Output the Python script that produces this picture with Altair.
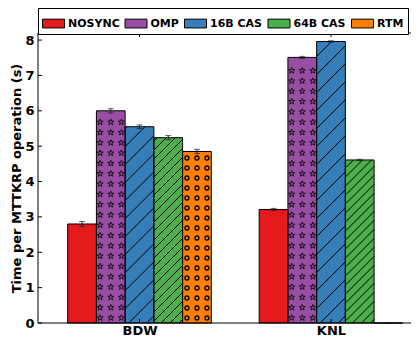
import json
import pandas as pd
import altair as alt

# ---- data ----
groups = ["BDW", "KNL"]
series = ["NOSYNC", "OMP", "16B CAS", "64B CAS", "RTM"]
bdw_time = [2.80, 6.00, 5.55, 5.24, 4.85]
bdw_err = [0.07, 0.06, 0.05, 0.06, 0.06]
knl_time = [3.21, 7.51, 7.96, 4.61, 0.0]
knl_err = [0.03, 0.03, 0.02, 0.02, 0.01]
y_ticks = [0, 1, 2, 3, 4, 5, 6, 7, 8]
colors = ["#e41a1c", "#984ea3", "#377eb8", "#4daf4a", "#ff7f00"]
hatches = ["", "*", "/", "//", "o"]

# ---- layout / style ----
PAD_L, PAD_T = 30, 25
W, H = 373, 290
SVG_W, SVG_H = 403, 332
XDOM = [-0.53, -0.53 + W / 191.5]
YDOM = [0, 8.2]
BAR_W = 0.15
px_x = W / (XDOM[1] - XDOM[0])
px_y = H / (YDOM[1] - YDOM[0])
FONT = "DejaVu Sans"
STAR = ("M0,-1L0.2245,-0.309L0.951,-0.309L0.363,0.118L0.588,0.809L0,0.382"
        "L-0.588,0.809L-0.363,0.118L-0.951,-0.309L-0.2245,-0.309Z")

rows = []
for gi, (g, vals, errs) in enumerate(zip(groups, [bdw_time, knl_time], [bdw_err, knl_err])):
    for si, (s, v, e) in enumerate(zip(series, vals, errs)):
        xc = gi + (si - 2) * BAR_W
        rows.append(dict(group=g, series=s, xc=xc, xl=xc - BAR_W / 2, xr=xc + BAR_W / 2,
                         time=v, lo=v - e, hi=v + e, hatch=hatches[si]))
bars = pd.DataFrame(rows)

# pattern glyphs derived from the bar values
dots, segs = [], []
for r in rows:
    v = r["time"]
    if r["hatch"] in ("*", "o"):
        step_px, col_px, rad_px = (10.3, 10.6, 3.0) if r["hatch"] == "*" else (10.0, 10.0, 2.4)
        dy, dx, rad = step_px / px_y, col_px / px_x, rad_px / px_y
        k = 0
        while (k + 0.5) * dy + rad <= v:
            for c in (-1, 0, 1):
                dots.append(dict(x=r["xc"] + c * dx, y=(k + 0.5) * dy, kind=r["hatch"]))
            k += 1
    elif r["hatch"] in ("/", "//"):
        sp = (18.0 if r["hatch"] == "/" else 9.0) / px_y
        rise = BAR_W * px_x / px_y
        y0 = -rise + 0.4 * sp
        while y0 < v:
            t0 = max(0.0, -y0 / rise)
            t1 = min(1.0, (v - y0) / rise)
            if t1 > t0:
                segs.append(dict(x=r["xl"] + t0 * BAR_W, x2=r["xl"] + t1 * BAR_W,
                                 y=y0 + t0 * rise, y2=y0 + t1 * rise))
            y0 += sp
dots = pd.DataFrame(dots)
segs = pd.DataFrame(segs)

x_axis = alt.Axis(values=list(range(len(groups))), labelExpr=f"{json.dumps(groups)}[round(datum.value)]",
                  ticks=False, domain=False, grid=False, labelFont=FONT, labelFontSize=13,
                  labelFontWeight="bold", labelColor="black", labelPadding=1, labelOverlap=False,
                  title=None)
y_axis = alt.Axis(values=y_ticks, ticks=False, domain=False, grid=False, labelFont=FONT,
                  labelFontSize=13, labelFontWeight="bold", labelColor="black", labelPadding=4,
                  labelOverlap=False, title="Time per MTTKRP operation (s)", titleFont=FONT,
                  titleFontSize=13, titleFontWeight="bold", titleColor="black", titlePadding=1.5)


def X(field):
    return alt.X(field, type="quantitative", axis=x_axis,
                 scale=alt.Scale(domain=XDOM, nice=False, zero=False))


def Y(field):
    return alt.Y(field, type="quantitative", axis=y_axis, scale=alt.Scale(domain=YDOM, nice=False))


legend = alt.Legend(title=None, orient="none", legendX=0, legendY=-PAD_T, direction="horizontal",
                    symbolType="M-1,-0.4H1V0.4H-1Z", symbolSize=484, symbolStrokeColor="black",
                    symbolStrokeWidth=1, symbolOpacity=1, labelFont=FONT, labelFontSize=11,
                    labelFontWeight="bold", labelColor="black", labelOffset=3, columnPadding=2.5,
                    padding=4, strokeColor="black", fillColor="white", cornerRadius=0)

base = alt.Chart(bars)
bar_layer = base.mark_bar(opacity=1).encode(
    x=X("xl"), x2="xr",
    y=Y("time"), y2=alt.datum(0),
    color=alt.Color("series:N", scale=alt.Scale(domain=series, range=colors), legend=legend,
                    sort=series),
)
stars = alt.Chart(dots[dots["kind"] == "*"]).mark_point(
    shape=STAR, filled=False, stroke="black", strokeWidth=0.8, size=40, opacity=1
).encode(x=X("x"), y=Y("y"))
circles = alt.Chart(dots[dots["kind"] == "o"]).mark_point(
    shape="circle", filled=False, stroke="black", strokeWidth=1.3, size=16, opacity=1
).encode(x=X("x"), y=Y("y"))
hatch = alt.Chart(segs).mark_rule(color="black", strokeWidth=1).encode(
    x=X("x"), x2="x2", y=Y("y"), y2="y2")
outline = base.mark_bar(fillOpacity=0, stroke="black", strokeWidth=1).encode(
    x=X("xl"), x2="xr", y=Y("time"), y2=alt.datum(0))
err_rule = base.mark_rule(color="#222", strokeWidth=1).encode(x=X("xc"), y=Y("lo"), y2="hi")
cap_lo = base.mark_tick(orient="horizontal", color="#222", size=6, thickness=1).encode(x=X("xc"), y=Y("lo"))
cap_hi = base.mark_tick(orient="horizontal", color="#222", size=6, thickness=1).encode(x=X("xc"), y=Y("hi"))

# frame (left, top, bottom; the right edge lies outside the picture) and inward ticks
one = pd.DataFrame({"a": [0]})
frame_l = alt.Chart(one).mark_rule(color="black").encode(x=alt.value(0), y=alt.value(0), y2=alt.value(H))
frame_t = alt.Chart(one).mark_rule(color="black").encode(y=alt.value(0), x=alt.value(0), x2=alt.value(W))
frame_b = alt.Chart(one).mark_rule(color="black").encode(y=alt.value(H), x=alt.value(0), x2=alt.value(W))
yt = pd.DataFrame({"v": y_ticks})
xt = pd.DataFrame({"v": list(range(len(groups)))})
tick_l = alt.Chart(yt).mark_rule(color="black").encode(y=Y("v"), x=alt.value(0), x2=alt.value(4))
tick_b = alt.Chart(xt).mark_rule(color="black").encode(x=X("v"), y=alt.value(H), y2=alt.value(H - 4))
tick_t = alt.Chart(xt).mark_rule(color="black").encode(x=X("v"), y=alt.value(0), y2=alt.value(4))

chart = alt.layer(
    bar_layer, stars, circles, hatch, outline, err_rule, cap_lo, cap_hi,
    frame_l, frame_t, frame_b, tick_l, tick_b, tick_t,
).properties(
    width=W, height=H,
    autosize=alt.AutoSizeParams(type="none"),
    padding={"left": PAD_L, "top": PAD_T, "right": SVG_W - PAD_L - W, "bottom": SVG_H - PAD_T - H},
).configure_view(stroke=None)

chart.save("out.html", embed_options={"renderer": "svg", "actions": False})
